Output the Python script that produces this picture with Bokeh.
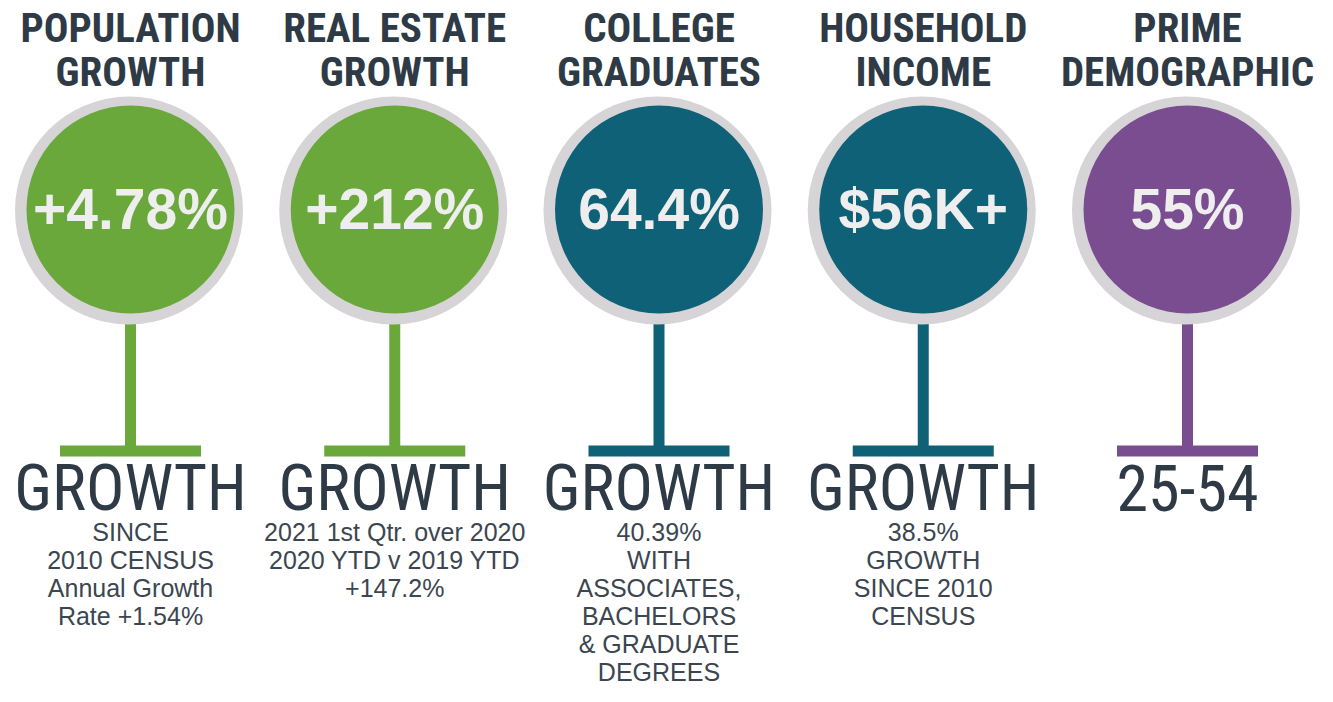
from bokeh.plotting import figure
from bokeh.models import Range1d, ColumnDataSource
from bokeh.core.properties import value
from bokeh.embed import file_html
from bokeh.resources import INLINE

# ---------------- data ----------------
title_line1 = ["POPULATION", "REAL ESTATE", "COLLEGE", "HOUSEHOLD", "PRIME"]
title_line2 = ["GROWTH", "GROWTH", "GRADUATES", "INCOME", "DEMOGRAPHIC"]
headline_values = ["+4.78%", "+212%", "64.4%", "$56K+", "55%"]
bottom_labels = ["GROWTH", "GROWTH", "GROWTH", "GROWTH", "25-54"]
notes = [
    ["SINCE", "2010 CENSUS", "Annual Growth", "Rate +1.54%"],
    ["2021 1st Qtr. over 2020", "2020 YTD v 2019 YTD", "+147.2%"],
    ["40.39%", "WITH", "ASSOCIATES,", "BACHELORS", "& GRADUATE", "DEGREES"],
    ["38.5%", "GROWTH", "SINCE 2010", "CENSUS"],
    [],
]

# ---------------- styles / layout ----------------
fill_colors = ["#6aa83b", "#6aa83b", "#0f6178", "#0f6178", "#7a4d90"]
RING = "#d6d4d6"
DARK = "#2e3a45"
NOTE = "#3b4650"
VALUE_TXT = "#eeeeee"
COND = "Roboto Condensed, Roboto"
SANS = "Liberation Sans"

W, H = 1317, 686
X0, STEP = 130.0, 264.25
CY, R_IN, R_OUT = 209.0, 104.0, 114.0
STEM_W = 11
BAR_Y, BAR_H, BAR_W = 450.5, 11, 141

n = len(title_line1)
xs = [X0 + i * STEP for i in range(n)]

p = figure(width=W, height=H, output_backend="svg", toolbar_location=None,
           x_range=Range1d(0, W), y_range=Range1d(H, 0),
           min_border=0, background_fill_color="white", border_fill_color="white")
p.axis.visible = False
p.grid.visible = False
p.outline_line_color = None

# stems and crossbars
src = ColumnDataSource(dict(x=xs, color=fill_colors,
                            y0=[CY + R_IN - 2] * n, y1=[BAR_Y] * n,
                            bary=[BAR_Y] * n))
p.segment(x0="x", y0="y0", x1="x", y1="y1", source=src, line_color="color",
          line_width=STEM_W, line_cap="butt")
p.rect(x="x", y="bary", width=BAR_W, height=BAR_H, source=src,
       fill_color="color", line_color=None)

# ring + circle
ring_src = ColumnDataSource(dict(x=[x - 1.5 for x in xs], y=[CY + 1] * n))
p.circle(x="x", y="y", radius=R_OUT, source=ring_src, fill_color=RING, line_color=None)
p.circle(x="x", y=CY, radius=R_IN, source=src, fill_color="color", line_color=None)

# headline value in circle (y = visual centre of the capitals)
p.text(x=xs, y=[CY - 0.5] * n, text=headline_values, text_align="center",
       text_baseline="middle", text_font=value(SANS), text_font_style="bold",
       text_font_size="57px", text_color=VALUE_TXT)

# titles
p.text(x=xs, y=[27.5] * n, text=title_line1, text_align="center",
       text_baseline="middle", text_font=value(COND), text_font_style="bold",
       text_font_size="41px", text_color=DARK)
p.text(x=xs, y=[71.5] * n, text=title_line2, text_align="center",
       text_baseline="middle", text_font=value(COND), text_font_style="bold",
       text_font_size="41px", text_color=DARK)

# bottom big labels
p.text(x=xs, y=[487.5] * n, text=bottom_labels, text_align="center",
       text_baseline="middle", text_font=value(COND),
       text_font_size="64px", text_color=DARK)

# notes
nx, ny, nt = [], [], []
for i, lines in enumerate(notes):
    for j, t in enumerate(lines):
        nx.append(xs[i])
        ny.append(531 + j * 28)
        nt.append(t)
p.text(x=nx, y=ny, text=nt, text_align="center", text_baseline="middle",
       text_font=value(SANS), text_font_size="25px", text_color=NOTE)

open("out.html", "w").write(file_html(p, INLINE))
